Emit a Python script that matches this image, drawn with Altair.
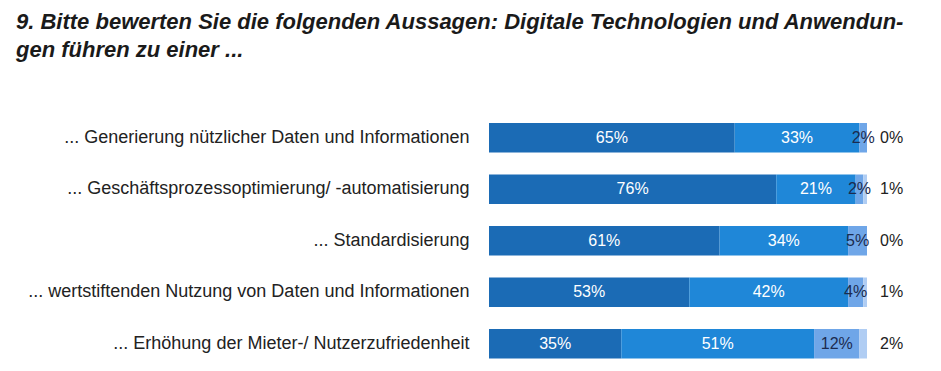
import altair as alt
import pandas as pd

title_lines = [
    "9. Bitte bewerten Sie die folgenden Aussagen: Digitale Technologien und Anwendun-",
    "gen führen zu einer ...",
]
items = [
    "... Generierung nützlicher Daten und Informationen",
    "... Geschäftsprozessoptimierung/ -automatisierung",
    "... Standardisierung",
    "... wertstiftenden Nutzung von Daten und Informationen",
    "... Erhöhung der Mieter-/ Nutzerzufriedenheit",
]
seg1 = [65, 76, 61, 53, 35]
seg2 = [33, 21, 34, 42, 51]
seg3 = [2, 2, 5, 4, 12]
seg4 = [0, 1, 0, 1, 2]
segments = [seg1, seg2, seg3, seg4]
seg_colors = ["#1b6bb5", "#1f87d8", "#6fa6e8", "#b0cdf3"]

rows = []
for i, item in enumerate(items):
    for s, vals in enumerate(segments):
        rows.append({"item": item, "seg": s, "value": vals[i],
                     "label": f"{vals[i]}%"})
df = pd.DataFrame(rows)

base = alt.Chart(df).transform_stack(
    stack="value", groupby=["item"], as_=["x0", "x1"],
    sort=[alt.SortField("seg", order="ascending")],
).transform_calculate(mid="(datum.x0 + datum.x1) / 2")

y_enc = alt.Y(
    "item:N", sort=items, title=None,
    scale=alt.Scale(paddingInner=0.427, paddingOuter=0),
    axis=alt.Axis(domain=False, ticks=False, grid=False, labelPadding=20,
                  labelFontSize=18, labelFont="Liberation Sans",
                  labelColor="#222222", labelLimit=600,
                  minExtent=481, maxExtent=481),
)
x_scale = alt.Scale(domain=[0, 100], nice=False, zero=True)

bars = base.mark_bar().encode(
    x=alt.X("x0:Q", scale=x_scale, axis=None),
    x2="x1:Q",
    y=y_enc,
    color=alt.Color("seg:O", scale=alt.Scale(domain=[0, 1, 2, 3], range=seg_colors),
                    legend=None),
)

inner = base.transform_filter("datum.seg < 3 && datum.value > 0").mark_text(
    font="Liberation Sans", fontSize=16, baseline="middle", align="center",
).encode(
    x=alt.X("mid:Q", scale=x_scale, axis=None),
    y=alt.Y("item:N", sort=items),
    text="label:N",
    color=alt.condition("datum.seg < 2", alt.value("#ffffff"), alt.value("#1c2b4f")),
)

outer = base.transform_filter("datum.seg == 3").mark_text(
    font="Liberation Sans", fontSize=16, baseline="middle", align="left", dx=13,
    color="#222222",
).encode(
    x=alt.X("x1:Q", scale=x_scale, axis=None),
    y=alt.Y("item:N", sort=items),
    text="label:N",
)

chart = alt.layer(bars, inner, outer).properties(
    width=378,
    height=235.5,
    autosize=alt.AutoSizeParams(type="none"),
    padding={"left": 481, "top": 115, "right": 66, "bottom": 4},
    title=alt.Title(
        text=title_lines, anchor="start", frame="group", dx=-473, offset=61,
        font="Liberation Sans", fontSize=22, fontStyle="italic", fontWeight="bold",
        lineHeight=28, color="#1a1a1a",
    ),
).configure_view(stroke=None)

chart.save("out.html", embed_options={"renderer": "svg", "actions": False})
